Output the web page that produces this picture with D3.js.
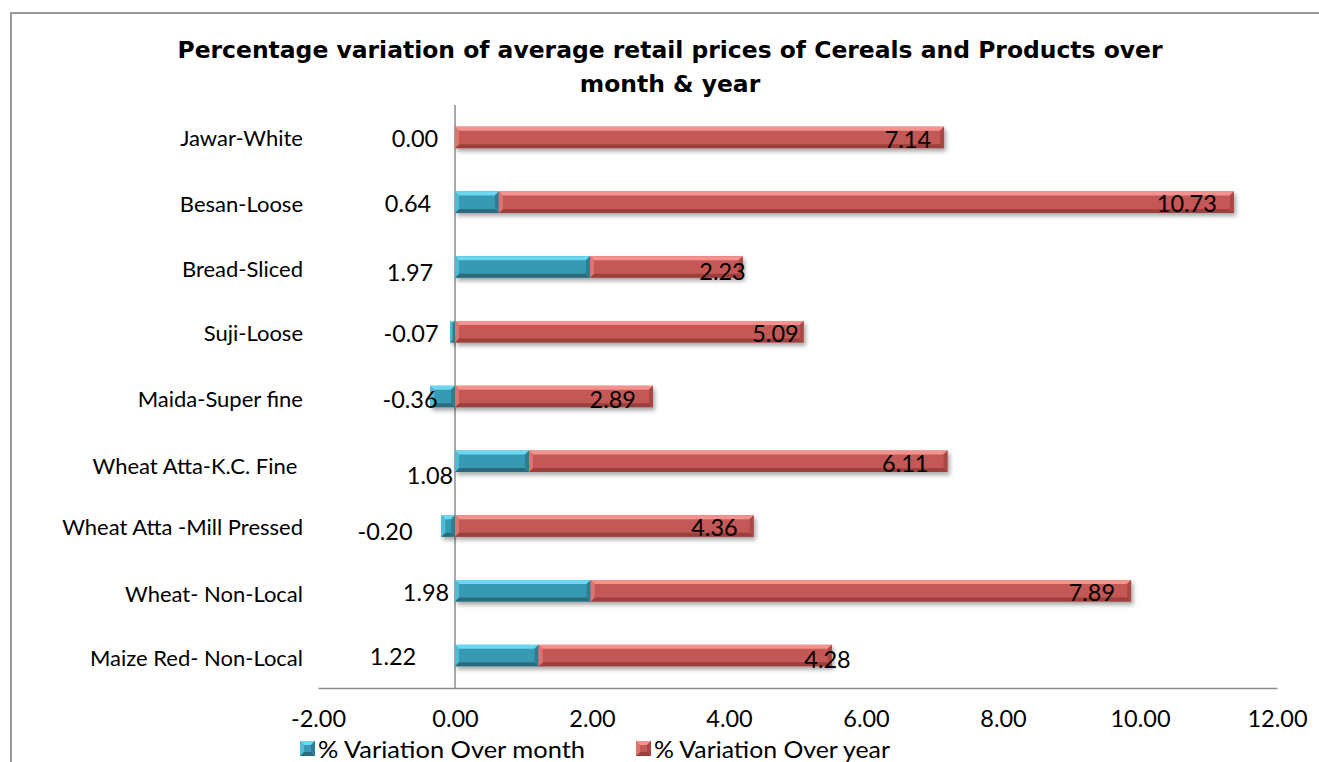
<!DOCTYPE html>
<html><head><meta charset="utf-8">
<script src="https://cdn.jsdelivr.net/npm/d3@7"></script>
<style>
html,body{margin:0;padding:0;background:#fff;}
svg{display:block;}
text{font-family:Lato,"Open Sans",sans-serif;fill:#000;}
</style></head>
<body>
<svg id="chart" width="1319" height="762"></svg>
<script>
// ---- data ----
const categories = ["Jawar-White","Besan-Loose","Bread-Sliced","Suji-Loose","Maida-Super fine","Wheat Atta-K.C. Fine ","Wheat Atta -Mill Pressed","Wheat- Non-Local","Maize Red- Non-Local"];
const overMonth = [0.00, 0.64, 1.97, -0.07, -0.36, 1.08, -0.20, 1.98, 1.22];
const overYear  = [7.14, 10.73, 2.23, 5.09, 2.89, 6.11, 4.36, 7.89, 4.28];
const xTicks = [-2, 0, 2, 4, 6, 8, 10, 12];
const seriesNames = ["% Variation Over month", "% Variation Over year"];
const titleLines = ["Percentage variation of average retail prices of Cereals and Products over", "month & year"];

// label nudges (manually moved labels in the original)
const monthLabelDx = [-40,-47,-45,-44,-45,-25,-70,-29,-62];
const monthLabelDy = [1,2,6,2,3,14,6,2,1];
const yearLabelDx  = [-13,-17,3,-5,-17,-19,-16,-16,19];
const yearLabelDy  = [2,2,5,2,3,2,2,2,4];
const catLabelDy   = [1,2,2,2,3,5,1,3,3];

const svg = d3.select("#chart");
const x = d3.scaleLinear().domain([-2, 12]).range([318, 1277]);
const y = d3.scaleBand().domain(categories).range([105, 688]).paddingInner(0.668).paddingOuter(0.334);

const pal = {
  month: {body:"#3799b3", top:"#6bd8f1", bottom:"#2a6b7c", left:"#4fbcd6", right:"#2d7f94"},
  year:  {body:"#c45956", top:"#f4928f", bottom:"#9b3f3c", left:"#dc7471", right:"#a94744"}
};

const fmt = v => d3.format(".2f")(v).replace("\u2212","-");

const defs = svg.append("defs");
const f = defs.append("filter").attr("id","sh").attr("x","-10%").attr("y","-30%").attr("width","130%").attr("height","180%");
f.append("feDropShadow").attr("dx",2).attr("dy",3).attr("stdDeviation",2).attr("flood-color","#000").attr("flood-opacity",0.35);

// border
svg.append("path").attr("d","M11,762 L11,13 L1319,13").attr("fill","none").attr("stroke","#999").attr("stroke-width",2);

// title
const title = svg.append("text").attr("text-anchor","middle")
  .style("font-family","'DejaVu Sans',Verdana,sans-serif").style("font-weight","bold").style("font-size","21px");
title.append("tspan").attr("x",670).attr("y",58).text(titleLines[0]);
title.append("tspan").attr("x",670).attr("y",92).text(titleLines[1]);
{
  const t0 = title.select("tspan").node();
  const w = t0.getComputedTextLength();
  title.style("font-size", (21*985/w).toFixed(2)+"px");
}

// axes lines
svg.append("line").attr("x1",x(0)).attr("x2",x(0)).attr("y1",105).attr("y2",688).attr("stroke","#8c8c8c").attr("stroke-width",1.5);
const xAxis = d3.axisBottom(x).tickValues(xTicks).tickFormat(fmt).tickSize(0).tickPadding(22);
const gx = svg.append("g").attr("transform","translate(0,688)").call(xAxis);
gx.select(".domain").attr("stroke","#8c8c8c").attr("stroke-width",1.5);
gx.selectAll("text").style("font-family","Lato,sans-serif").style("font-size","23.5px").attr("fill","#000");

// category labels
svg.append("g").selectAll("text").data(categories).join("text")
  .attr("x",303).attr("y",(d,i)=>y(d)+y.bandwidth()/2+catLabelDy[i])
  .attr("dy","0.35em").attr("text-anchor","end")
  .style("font-size","22px").style("white-space","pre").attr("xml:space","preserve")
  .text(d=>d);

// bevelled bar
function bevelBar(g, x0, x1, y0, h, c){
  const a = Math.min(x0,x1), b = Math.max(x0,x1);
  const w = b-a; const y1 = y0+h;
  const bv = Math.min(4, w/2, h/2);
  const bg = g.append("g").attr("filter","url(#sh)");
  bg.append("rect").attr("x",a).attr("y",y0).attr("width",w).attr("height",h).attr("fill",c.body);
  const P = pts => pts.map(p=>p.join(",")).join(" ");
  bg.append("polygon").attr("points",P([[a,y0],[b,y0],[b-bv,y0+bv],[a+bv,y0+bv]])).attr("fill",c.top);
  bg.append("polygon").attr("points",P([[a,y1],[b,y1],[b-bv,y1-bv],[a+bv,y1-bv]])).attr("fill",c.bottom);
  bg.append("polygon").attr("points",P([[a,y0],[a+bv,y0+bv],[a+bv,y1-bv],[a,y1]])).attr("fill",c.left);
  bg.append("polygon").attr("points",P([[b,y0],[b-bv,y0+bv],[b-bv,y1-bv],[b,y1]])).attr("fill",c.right);
}

const bars = svg.append("g");
categories.forEach((cat,i)=>{
  const m = overMonth[i], yr = overYear[i];
  const y0 = y(cat), h = y.bandwidth();
  const yStart = m > 0 ? m : 0;
  if (m !== 0) bevelBar(bars, x(0), x(m), y0, h, pal.month);
  bevelBar(bars, x(yStart), x(yStart+yr), y0, h, pal.year);
});

// data labels
svg.append("g").selectAll("text").data(categories).join("text")
  .attr("x",(d,i)=>x(0)+monthLabelDx[i])
  .attr("y",(d,i)=>y(d)+y.bandwidth()/2+monthLabelDy[i])
  .attr("dy","0.35em").attr("text-anchor","middle").style("font-size","23.5px")
  .text((d,i)=>fmt(overMonth[i]));
svg.append("g").selectAll("text").data(categories).join("text")
  .attr("x",(d,i)=>x(Math.max(overMonth[i],0)+overYear[i])+yearLabelDx[i])
  .attr("y",(d,i)=>y(d)+y.bandwidth()/2+yearLabelDy[i])
  .attr("dy","0.35em").attr("text-anchor","end").style("font-size","23.5px")
  .text((d,i)=>fmt(overYear[i]));

// legend
const legendX = [300, 636];
const legendW = [267, 236];
const lg = svg.append("g");
seriesNames.forEach((s,i)=>{
  const c = i===0 ? pal.month : pal.year;
  const gg = lg.append("g");
  const lx = legendX[i], ly = 741, sz = 15;
  const P = pts => pts.map(p=>p.join(",")).join(" ");
  gg.append("rect").attr("x",lx).attr("y",ly).attr("width",sz).attr("height",sz).attr("fill",c.body);
  gg.append("polygon").attr("points",P([[lx,ly],[lx+sz,ly],[lx+sz-4,ly+4],[lx+4,ly+4]])).attr("fill",c.top);
  gg.append("polygon").attr("points",P([[lx,ly+sz],[lx+sz,ly+sz],[lx+sz-4,ly+sz-4],[lx+4,ly+sz-4]])).attr("fill",c.bottom);
  gg.append("polygon").attr("points",P([[lx,ly],[lx+4,ly+4],[lx+4,ly+sz-4],[lx,ly+sz]])).attr("fill",c.left);
  gg.append("polygon").attr("points",P([[lx+sz,ly],[lx+sz-4,ly+4],[lx+sz-4,ly+sz-4],[lx+sz,ly+sz]])).attr("fill",c.right);
  lg.append("text").attr("x",lx+18).attr("y",ly+sz/2+1).attr("dy","0.35em").style("font-size","23.5px")
    .attr("textLength",legendW[i]).attr("lengthAdjust","spacingAndGlyphs").text(s);
});
</script>
</body></html>
